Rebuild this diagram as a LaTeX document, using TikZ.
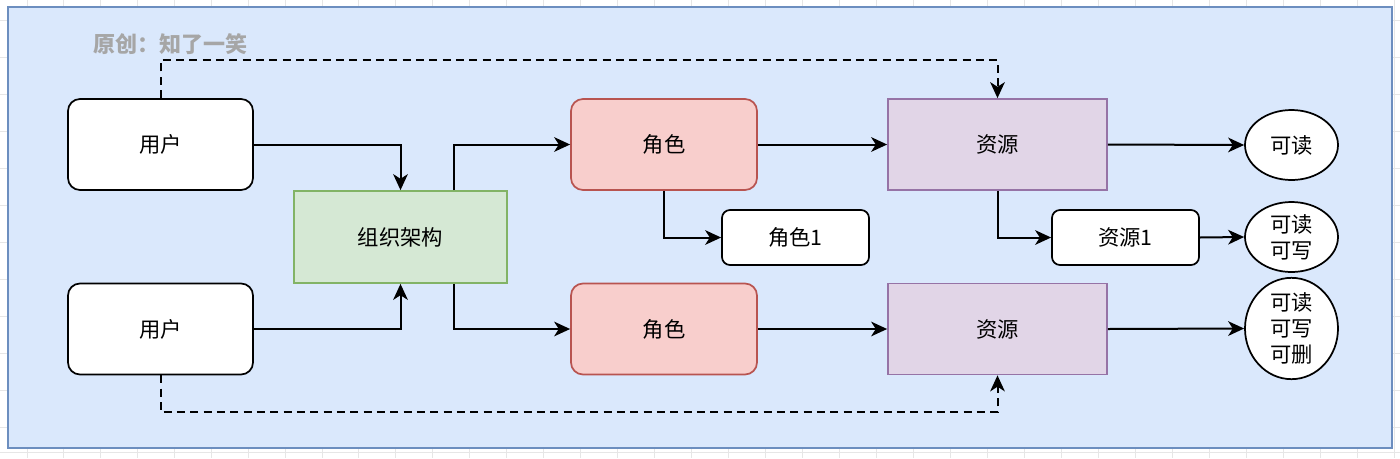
\documentclass[tikz,border=0pt]{standalone}
\usepackage{fontspec}
\setmainfont{Noto Sans CJK SC}
\usetikzlibrary{arrows.meta,shapes.geometric,calc}
\definecolor{bgblue}{HTML}{DAE8FC}
\definecolor{bgborder}{HTML}{6C8EBF}
\definecolor{gfill}{HTML}{D5E8D4}
\definecolor{gline}{HTML}{82B366}
\definecolor{rfill}{HTML}{F8CECC}
\definecolor{rline}{HTML}{B85450}
\definecolor{pfill}{HTML}{E1D5E7}
\definecolor{pline}{HTML}{9673A6}
\definecolor{lblgray}{HTML}{A6A6A6}
\definecolor{gridc}{HTML}{E6E6E6}
\tikzset{
  txt/.style={font=\fontsize{16pt}{19.5pt}\selectfont, text=black, align=center},
  basebox/.style={txt, draw, line width=1.3pt, inner sep=0pt},
  userbox/.style={basebox, fill=white, rounded corners=9pt, minimum width=185*0.75pt, minimum height=91*0.75pt},
  smallbox/.style={basebox, fill=white, rounded corners=6pt, minimum width=147*0.75pt, minimum height=55*0.75pt},
  orgbox/.style={basebox, fill=gfill, draw=gline, minimum width=213*0.75pt, minimum height=92*0.75pt},
  rolebox/.style={basebox, fill=rfill, draw=rline, rounded corners=9pt, minimum width=186*0.75pt, minimum height=91*0.75pt},
  resbox/.style={basebox, fill=pfill, draw=pline, minimum width=219*0.75pt, minimum height=91*0.75pt},
  perm/.style={txt, ellipse, draw, fill=white, line width=1.3pt, inner sep=0pt, minimum width=93*0.75pt},
  arr/.style={line width=1.5pt, -{Stealth[length=12pt, width=11pt, inset=3.5pt]}},
  darr/.style={arr, dash pattern=on 6pt off 4pt}
}
\begin{document}
\begin{tikzpicture}[x=0.75pt, y=-0.75pt]
\useasboundingbox (0,0) rectangle (1400,458);
\fill[white] (0,0) rectangle (1400,458);
\foreach \gx in {27,63,100,137,174,211,248,285,322,358,395,432,469,506,543,580,617,654,691,728,765,802,839,876,913,950,987,1024,1061,1098,1135,1172,1209,1246,1283,1320,1357,1394}
  \draw[gridc, line width=0.6pt] (\gx,0) -- (\gx,458);
\foreach \gy in {20,57,94,131,168,205,242,279,316,353,390,427,452}
  \draw[gridc, line width=0.6pt] (0,\gy) -- (1400,\gy);
\draw[bgborder, fill=bgblue, line width=1.1pt] (8,7) rectangle (1392,448);

\node[font=\fontsize{16.5pt}{19pt}\selectfont\bfseries, text=lblgray] (lbl) at (170,44) {原创：知了一笑};

\node[userbox] (u1) at (160.5,144.5) {用户};
\node[userbox] (u2) at (160.5,329) {用户};
\node[orgbox] (org) at (400.5,237) {组织架构};
\node[rolebox] (r1) at (664,144.5) {角色};
\node[rolebox] (r2) at (664,329) {角色};
\node[smallbox] (r1a) at (795.5,237.5) {角色1};
\node[resbox] (s1) at (997.5,144.5) {资源};
\node[resbox] (s2) at (997.5,329) {资源};
\node[smallbox] (s1a) at (1125.5,237.5) {资源1};
\node[perm, minimum height=70*0.75pt] (e1) at (1291.5,145) {可读};
\node[perm, minimum height=70*0.75pt] (e2) at (1291.5,237) {可读\\可写};
\node[perm, minimum height=87*0.75pt] (e3) at (1291.5,328.5) {可读\\可写\\可删};

\draw[arr] (u1.east) -| (org.north);
\draw[arr] (u2.east) -| (org.south);
\draw[arr] ($(org.north west)!0.75!(org.north east)$) |- (r1.west);
\draw[arr] ($(org.south west)!0.75!(org.south east)$) |- (r2.west);
\draw[arr] (r1.east) -- (s1.west);
\draw[arr] (r2.east) -- (s2.west);
\draw[arr] (r1.south) |- (r1a.west);
\draw[arr] (s1.south) |- (s1a.west);
\draw[arr] (s1.east) -- (e1.west);
\draw[arr] (s1a.east) -- (e2.west);
\draw[arr] (s2.east) -- (e3.west);
\draw[darr] (u1.north) |- ($(s1.north)+(0,-38)$) -- (s1.north);
\draw[darr] (u2.south) |- ($(s2.south)+(0,37)$) -- (s2.south);
\end{tikzpicture}
\end{document}
